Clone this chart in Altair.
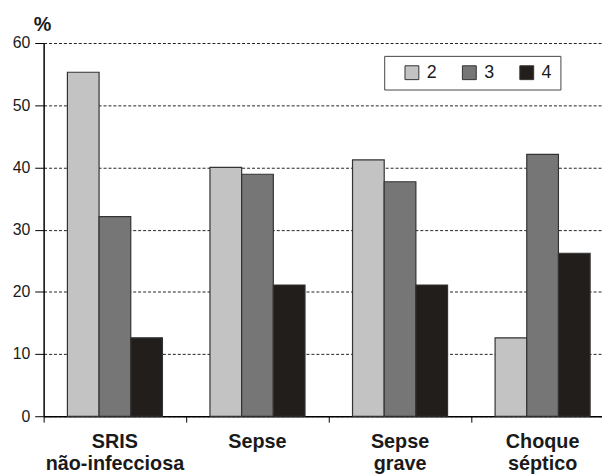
import altair as alt
import pandas as pd

categories = ["SRIS não-infecciosa", "Sepse", "Sepse grave", "Choque séptico"]
series = ["2", "3", "4"]
values_2 = [55.3, 40.0, 41.2, 12.6]
values_3 = [32.1, 38.9, 37.7, 42.1]
values_4 = [12.6, 21.1, 21.1, 26.2]
colors = ["#c3c3c3", "#767676", "#221e1c"]
y_ticks = [0, 10, 20, 30, 40, 50, 60]

rows = []
for s, vals in zip(series, [values_2, values_3, values_4]):
    for c, v in zip(categories, vals):
        rows.append({"cat": c, "serie": s, "value": v})
df = pd.DataFrame(rows)

FONT = "Liberation Sans"

chart = alt.Chart(df).mark_bar(stroke="#333333", strokeWidth=1.2).encode(
    x=alt.X("cat:N", sort=categories, title=None,
            scale=alt.Scale(range=[0, 576], paddingInner=0, paddingOuter=0),
            axis=alt.Axis(labelAngle=0, labelFont=FONT, labelFontSize=20,
                          labelFontWeight="bold", labelColor="#1a1a1a",
                          labelLineHeight=22, labelPadding=10,
                          labelExpr="split(datum.label, ' ')",
                          bandPosition=0, tickSize=6, tickColor="#000000",
                          domainColor="#000000", domainWidth=1.5,
                          grid=False)),
    xOffset=alt.XOffset("serie:N", sort=series,
                        scale=alt.Scale(paddingInner=0, paddingOuter=0.75)),
    y=alt.Y("value:Q", title="%",
            scale=alt.Scale(domain=[0, 60], nice=False),
            axis=alt.Axis(values=y_ticks, labelFont=FONT, labelFontSize=16,
                          labelColor="#1a1a1a", labelPadding=5, tickSize=9,
                          tickColor="#000000", domainColor="#000000",
                          domainWidth=1.5, grid=True, gridColor="#222222",
                          gridDash=[3, 2], gridWidth=1,
                          titleAngle=0, titleFont=FONT, titleFontSize=20,
                          titleFontWeight="bold", titleColor="#1a1a1a",
                          titleAlign="center", titleBaseline="alphabetic",
                          titleX=-1.5, titleY=-13)),
    color=alt.Color("serie:N", sort=series,
                    scale=alt.Scale(domain=series, range=colors),
                    legend=alt.Legend(title=None, orient="none", direction="horizontal",
                                      legendX=344, legendY=13,
                                      symbolType="square", symbolSize=196,
                                      symbolStrokeColor="#333333", symbolStrokeWidth=1,
                                      symbolOffset=11,
                                      labelFont=FONT, labelFontSize=18,
                                      labelColor="#1a1a1a", labelOffset=6,
                                      columnPadding=12, padding=8,
                                      strokeColor="#444444", fillColor="#ffffff")),
).properties(
    width=564, height=377,
    autosize=alt.AutoSizeParams(type="none"),
    padding={"left": 36, "top": 33, "right": 0, "bottom": 57},
).configure_view(stroke=None).configure_axis(
    labelFlush=False
)

chart.save("out.html", embed_options={"renderer": "svg", "actions": False})
